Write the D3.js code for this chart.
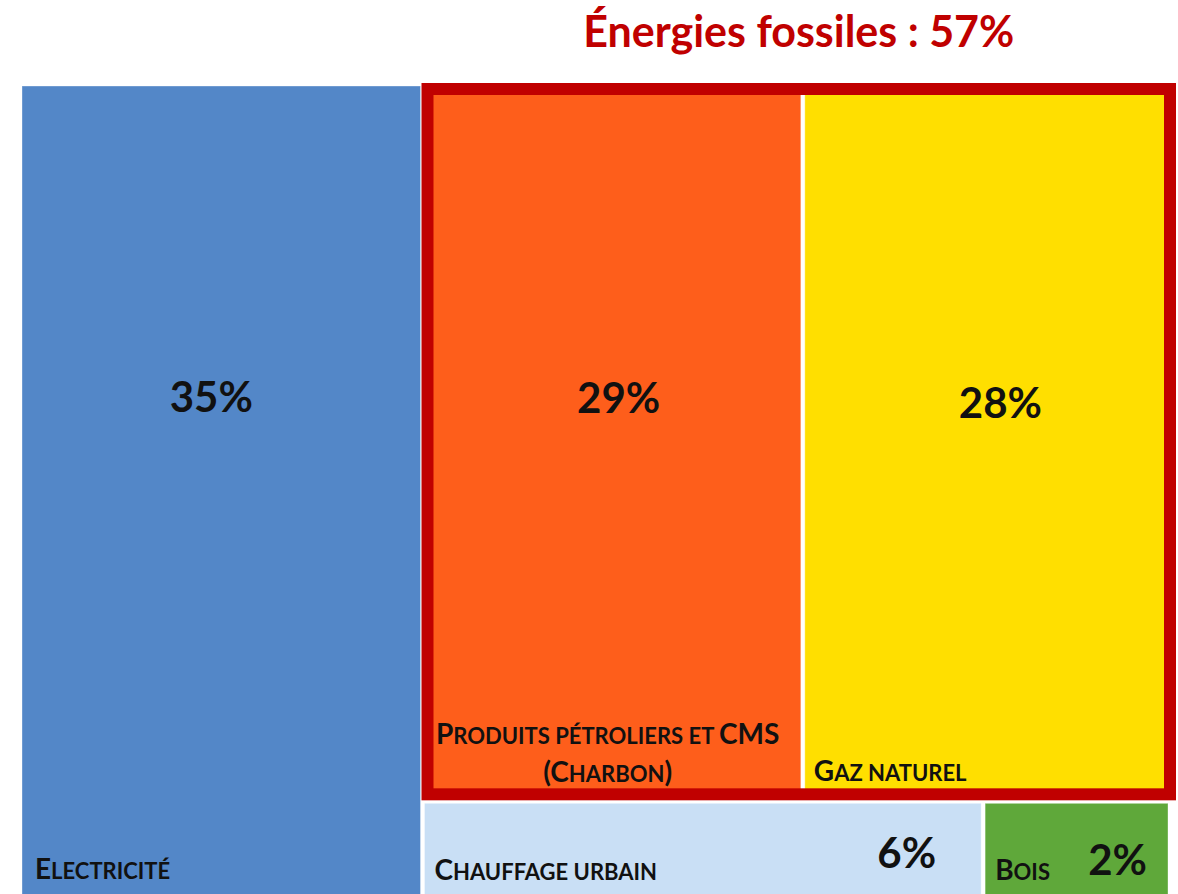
<!DOCTYPE html>
<html lang="fr">
<head>
<meta charset="utf-8">
<script src="https://cdn.jsdelivr.net/npm/d3@7"></script>
<style>
  html, body { margin: 0; padding: 0; background: #ffffff; }
  svg { display: block; }
  text { font-family: Lato, "Open Sans", "Noto Sans", sans-serif; font-weight: 700; }
</style>
</head>
<body>
<svg id="chart" width="1178" height="894"></svg>
<script>
// Consommation d'énergie finale par source (parts en %)
const categories = ["Electricité", "Produits pétroliers et CMS (Charbon)", "Gaz naturel", "Chauffage urbain", "Bois"];
const labelLines = [["Electricité"], ["Produits pétroliers et CMS", "(Charbon)"], ["Gaz naturel"], ["Chauffage urbain"], ["Bois"]];
const shares = [35, 29, 28, 6, 2];
const groupNames = [null, "Énergies fossiles", "Énergies fossiles", "Chaleur et bois", "Chaleur et bois"];
const fossilGroup = "Énergies fossiles";
const colors = ["#5387C8", "#FE5E1B", "#FFDF00", "#C9DFF5", "#5FA83A"];

// Label placement inside each cell
const valuePlacement = [
  { anchor: "middle", dx: -10, fromTop: 326 },
  { anchor: "middle", dx: 6, fromTop: 327 },
  { anchor: "middle", dx: 14, fromTop: 332 },
  { anchor: "end", fromRight: 45, fromBottom: 32 },
  { anchor: "end", fromRight: 21, fromBottom: 25 }
];
const namePlacement = [
  { anchor: "start", dx: 13, fromBottom: 21 },
  { anchor: "middle", dx: -5, fromBottom: 55 },
  { anchor: "start", dx: 9, fromBottom: 18 },
  { anchor: "start", dx: 10, fromBottom: 20 },
  { anchor: "start", dx: 10, fromBottom: 20 }
];

const svg = d3.select("#chart");
const origin = { x: 22, y: 86 };
const width = 1146, height = 814;

// Build hierarchy: électricité | (fossiles / chaleur + bois)
const leaves = categories.map((name, i) => ({ name, value: shares[i], index: i, group: groupNames[i] }));
const grouped = d3.group(leaves.filter(d => d.group), d => d.group);
const treeData = {
  name: "Total",
  children: [
    ...leaves.filter(d => !d.group),
    {
      name: "Autres sources",
      children: Array.from(grouped, ([name, kids]) => ({ name, children: kids }))
    }
  ]
};

const root = d3.hierarchy(treeData)
  .sum(d => d.children ? 0 : d.value);

d3.treemap()
  .tile(d3.treemapSliceDice)
  .size([width, height])
  .paddingInner(4)
  .round(false)(root);

const g = svg.append("g").attr("transform", `translate(${origin.x},${origin.y})`);

// Cells
const cells = g.selectAll("g.cell")
  .data(root.leaves())
  .join("g")
  .attr("class", "cell");

cells.append("rect")
  .attr("x", d => d.x0)
  .attr("y", d => d.y0)
  .attr("width", d => d.x1 - d.x0)
  .attr("height", d => d.y1 - d.y0)
  .attr("fill", d => colors[d.data.index])
  .attr("stroke", "#ffffff")
  .attr("stroke-opacity", 0.35)
  .attr("stroke-width", 1);

// Small-caps label: capitals at full size, other letters uppercased smaller
function smallCaps(textSel, str, big, small) {
  const runs = [];
  for (const ch of str) {
    const isLetter = ch.toUpperCase() !== ch.toLowerCase();
    const isLower = isLetter && ch === ch.toLowerCase();
    const size = (isLower || ch === " ") ? small : big;
    const glyph = ch.toUpperCase();
    if (runs.length && runs[runs.length - 1].size === size) runs[runs.length - 1].text += glyph;
    else runs.push({ size, text: glyph });
  }
  runs.forEach(r => textSel.append("tspan").attr("font-size", r.size).text(r.text));
}

// Category names
cells.each(function (d) {
  const i = d.data.index;
  const p = namePlacement[i];
  const cell = d3.select(this);
  labelLines[i].forEach((line, k) => {
    let x;
    if (p.anchor === "middle") x = (d.x0 + d.x1) / 2 + p.dx;
    else x = d.x0 + p.dx;
    const y = d.y1 - p.fromBottom + k * 38;
    const t = cell.append("text")
      .attr("x", x)
      .attr("y", y)
      .attr("text-anchor", p.anchor)
      .attr("fill", "#111111");
    smallCaps(t, line, 28, 22);
  });
});

// Share values
const fmt = v => `${v}%`;
cells.append("text")
  .attr("x", d => {
    const p = valuePlacement[d.data.index];
    return p.anchor === "end" ? d.x1 - p.fromRight : (d.x0 + d.x1) / 2 + p.dx;
  })
  .attr("y", d => {
    const p = valuePlacement[d.data.index];
    return p.fromTop !== undefined ? d.y0 + p.fromTop : d.y1 - p.fromBottom;
  })
  .attr("text-anchor", d => valuePlacement[d.data.index].anchor)
  .attr("font-size", 42)
  .attr("fill", "#111111")
  .text(d => fmt(d.value));

// Fossil-fuel frame and heading
const fossilNode = root.descendants().find(d => d.data.name === fossilGroup);
const frame = { left: -3, top: -3, right: 8, bottom: 1, stroke: 12 };
const fx0 = fossilNode.x0 + frame.left, fy0 = fossilNode.y0 + frame.top;
const fx1 = fossilNode.x1 + frame.right, fy1 = fossilNode.y1 + frame.bottom;
g.append("rect")
  .attr("x", fx0 + frame.stroke / 2)
  .attr("y", fy0 + frame.stroke / 2)
  .attr("width", fx1 - fx0 - frame.stroke)
  .attr("height", fy1 - fy0 - frame.stroke)
  .attr("fill", "none")
  .attr("stroke", "#C00000")
  .attr("stroke-width", frame.stroke);

g.append("text")
  .attr("x", (fx0 + fx1) / 2)
  .attr("y", fy0 - 36)
  .attr("text-anchor", "middle")
  .attr("font-size", 43)
  .attr("fill", "#C00000")
  .text(`${fossilGroup} : ${fmt(fossilNode.value)}`);
</script>
</body>
</html>
